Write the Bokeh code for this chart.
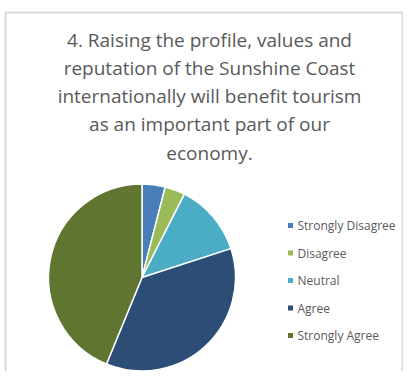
import numpy as np
from bokeh.plotting import figure
from bokeh.models import Range1d, ColumnDataSource
from bokeh.core.properties import value
from bokeh.embed import file_html
from bokeh.resources import INLINE

# ---- data ----
categories = ["Strongly Disagree", "Disagree", "Neutral", "Agree", "Strongly Agree"]
shares = [4.0, 3.5, 12.5, 36.2, 43.8]
colors = ["#4a7ebb", "#9bbb59", "#4bacc6", "#2c4d75", "#5f7530"]
title_lines = [
    "4. Raising the profile, values and",
    "reputation of the Sunshine Coast",
    "internationally will benefit tourism",
    "as an important part of our",
    "economy.",
]

W, H = 403, 371
p = figure(width=W, height=H, output_backend="svg", toolbar_location=None,
           x_range=Range1d(0, W), y_range=Range1d(0, H),
           min_border=0, min_border_left=0, min_border_right=0,
           min_border_top=0, min_border_bottom=0)
p.axis.visible = False
p.grid.visible = False
p.outline_line_color = None
p.background_fill_color = "white"
p.border_fill_color = "white"

def sy(y):  # screen y (within figure) -> data y
    return H - y

def sx(x):
    return x

# border (chart area)
p.line([sx(5), sx(5), sx(402), sx(402)], [0, sy(12), sy(12), 0],
       line_color="#d9d9d9", line_width=2)

# pie
vals = np.array(shares, dtype=float)
frac = vals / vals.sum()
cum = np.concatenate([[0], np.cumsum(frac)])
start = np.pi / 2 - 2 * np.pi * cum[:-1]
end = np.pi / 2 - 2 * np.pi * cum[1:]
src = ColumnDataSource(dict(start=start, end=end, color=colors, cat=categories))
p.wedge(x=sx(141.5), y=sy(277), radius=93.5, start_angle="start", end_angle="end",
        direction="clock", fill_color="color", line_color="white", line_width=1.5,
        source=src)

# title
for i, t in enumerate(title_lines):
    p.text(x=[sx(209)], y=[sy(39 + 28.3 * i)], text=[t], text_align="center",
           text_baseline="middle", text_font=value("Open Sans"),
           text_font_size="19px", text_color="#595959")

# legend
ly = [sy(225 + 27.5 * i) for i in range(len(categories))]
p.scatter(x=[sx(290)] * len(categories), y=ly, marker="square", size=5,
          fill_color=colors, line_color=None)
p.text(x=[sx(297)] * len(categories), y=ly, text=categories, text_align="left",
       text_baseline="middle", text_font=value("Open Sans"), text_font_size="12px",
       text_color="#595959")

open("out.html", "w").write(file_html(p, INLINE))
